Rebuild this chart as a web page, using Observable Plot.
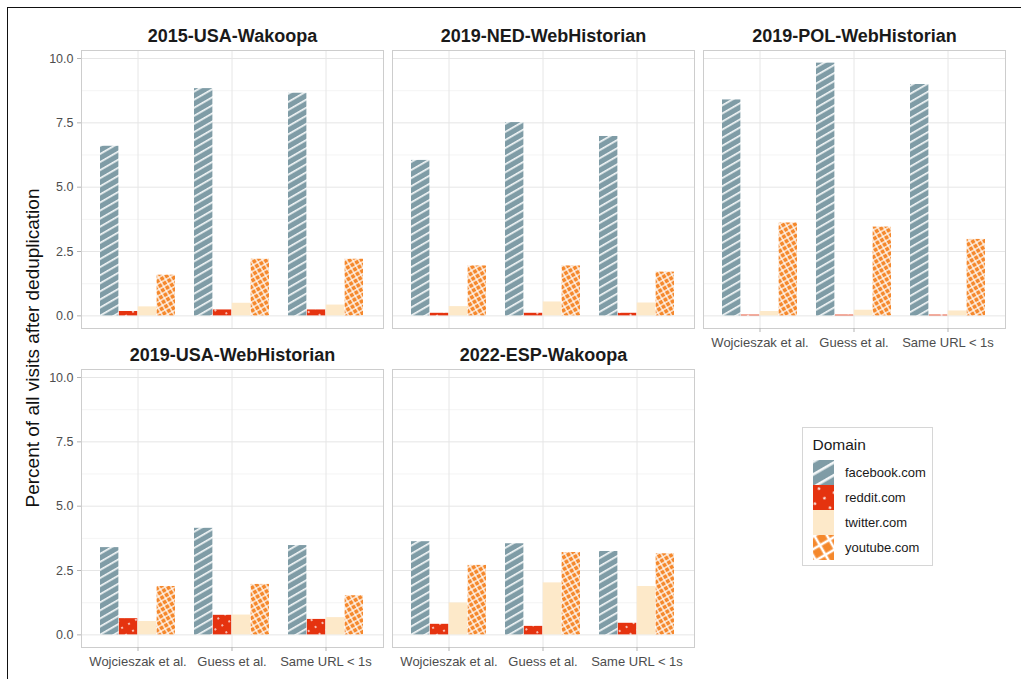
<!DOCTYPE html>
<html><head><meta charset="utf-8">
<script src="https://cdn.jsdelivr.net/npm/d3@7"></script>
<script src="https://cdn.jsdelivr.net/npm/@observablehq/plot@0.6"></script>
<style>
body{margin:0;background:#fff;font-family:"Liberation Sans",Arial,sans-serif;}
#root{position:relative;width:1021px;height:679px;overflow:hidden;background:#fff;}
.abs{position:absolute;}
#frame{position:absolute;left:7px;top:7px;width:1030px;height:690px;border-left:1.5px solid #111;border-top:1.5px solid #111;}
#ytitle{position:absolute;left:33px;top:348px;transform:translate(-50%,-50%) rotate(-90deg);white-space:nowrap;font-size:19px;color:#111;}
#legend{position:absolute;left:802px;top:427px;width:129px;height:137px;border:1px solid #d6d6d6;background:#fff;}
</style></head><body>
<div id="root">
<div id="frame"></div>
<svg width="0" height="0" style="position:absolute">
<defs>
<pattern id="pfb" patternUnits="userSpaceOnUse" width="10" height="7" patternTransform="rotate(-30)">
<rect width="10" height="7" fill="#7f9ca6"/><rect y="0" width="10" height="1.7" fill="#f4f7f8"/>
</pattern>
<pattern id="prd" patternUnits="userSpaceOnUse" width="8" height="8" patternTransform="rotate(-30)">
<rect width="8" height="8" fill="#e5330f"/><circle cx="4" cy="4" r="0.9" fill="#fff"/>
</pattern>
<pattern id="pyt" patternUnits="userSpaceOnUse" width="5.2" height="5.2" patternTransform="rotate(-30)">
<rect width="5.2" height="5.2" fill="#fff"/><rect x="0.6" y="0.6" width="4" height="4" fill="#f5882c"/>
</pattern>
<pattern id="lfb" patternUnits="userSpaceOnUse" width="12" height="11" patternTransform="rotate(-30)">
<rect width="12" height="11" fill="#7f9ca6"/><rect y="0" width="12" height="2.6" fill="#f4f7f8"/>
</pattern>
<pattern id="lrd" patternUnits="userSpaceOnUse" width="11" height="11" patternTransform="rotate(-30)">
<rect width="11" height="11" fill="#e5330f"/><circle cx="5.5" cy="5.5" r="1.2" fill="#fff"/>
</pattern>
<pattern id="lyt" patternUnits="userSpaceOnUse" width="11" height="11" patternTransform="rotate(-30)">
<rect width="11" height="11" fill="#fff"/><rect x="1.3" y="1.3" width="8.4" height="8.4" fill="#f5882c"/>
</pattern>
</defs></svg>
<div id="ytitle">Percent of all visits after deduplication</div>
<div id="legend"></div>
</div>
<script>
const panelTitles = ["2015-USA-Wakoopa", "2019-NED-WebHistorian", "2019-POL-WebHistorian", "2019-USA-WebHistorian", "2022-ESP-Wakoopa"];
const methods = ["Wojcieszak et al.", "Guess et al.", "Same URL < 1s"];
const domains = ["facebook.com", "reddit.com", "twitter.com", "youtube.com"];
// values per panel, each [Wojcieszak, Guess, Same URL]
const facebook = [[6.59, 8.83, 8.65], [6.04, 7.51, 6.97], [8.39, 9.82, 8.99], [3.39, 4.14, 3.47], [3.62, 3.54, 3.24]];
const reddit   = [[0.17, 0.23, 0.23], [0.10, 0.10, 0.10], [0.03, 0.03, 0.03], [0.63, 0.76, 0.60], [0.41, 0.33, 0.45]];
const twitter  = [[0.35, 0.49, 0.42], [0.36, 0.54, 0.50], [0.17, 0.22, 0.19], [0.52, 0.77, 0.67], [1.24, 2.02, 1.88]];
const youtube  = [[1.58, 2.20, 2.20], [1.94, 1.94, 1.70], [3.61, 3.45, 2.97], [1.88, 1.96, 1.52], [2.70, 3.20, 3.15]];
const yTicks = [0, 2.5, 5, 7.5, 10];
const yTickLabels = ["0.0", "2.5", "5.0", "7.5", "10.0"];
const yMinorTicks = [1.25, 3.75, 6.25, 8.75];

const fills = ["url(#pfb)", "url(#prd)", "#fde9c9", "url(#pyt)"];
const legendFills = ["url(#lfb)", "url(#lrd)", "#fde9c9", "url(#lyt)"];

const series = [facebook, reddit, twitter, youtube];
const table = [];
panelTitles.forEach((p, pi) => methods.forEach((m, mi) => domains.forEach((d, di) => {
  table.push({panel: p, method: m, domain: d, value: series[di][pi][mi]});
})));

const yMax = d3.max(table, d => d.value);
const yDomain = [-0.05 * yMax, 1.05 * yMax];

const panelLeft = [81, 392, 703];
const panelTop = [50, 369];
const PW = 302, PH = 278;
const ML = 50, MR = 10, MT = 35, MB = 30;
const bw = PW / 3.2 * 0.8 / 4;
const root = document.getElementById("root");
const font = {fontFamily: "'Liberation Sans', Arial, sans-serif", background: "transparent", overflow: "visible"};

panelTitles.forEach((title, i) => {
  const col = i % 3, row = Math.floor(i / 3);
  const data = table.filter(r => r.panel === title);
  const showX = row === 1 || col === 2;
  const showY = col === 0;
  const marks = [
    Plot.gridY(yMinorTicks, {stroke: "#efefef", strokeOpacity: 1, strokeWidth: 0.7}),
    Plot.gridY(yTicks, {stroke: "#e6e6e6", strokeOpacity: 1, strokeWidth: 1}),
    Plot.gridX(methods, {stroke: "#e6e6e6", strokeOpacity: 1, strokeWidth: 1}),
    ...domains.map((d, j) => Plot.barY(data.filter(r => r.domain === d), {
      x: "method", y: "value", fill: "domain", insetLeft: j * bw, insetRight: (3 - j) * bw
    })),
    Plot.frame({stroke: "#cdcdcd", strokeWidth: 1}),
    Plot.text([title], {frameAnchor: "top", text: d => d, dy: -9, lineAnchor: "bottom", fontWeight: "bold", fontSize: 18, fill: "#1a1a1a"})
  ];
  if (showY) marks.push(Plot.axisY(yTicks, {tickFormat: d => yTickLabels[yTicks.indexOf(d)], tickSize: 4, tickPadding: 4, fontSize: 12.5, stroke: "#b5b5b5", fill: "#4d4d4d", label: null}));
  if (showX) marks.push(Plot.axisX({tickSize: 4, tickPadding: 5, fontSize: 13, stroke: "#b5b5b5", fill: "#4d4d4d", label: null}));
  const svg = Plot.plot({
    width: PW + ML + MR, height: PH + MT + MB,
    marginLeft: ML, marginRight: MR, marginTop: MT, marginBottom: MB,
    style: font,
    x: {type: "band", domain: methods, paddingInner: 0.2, paddingOuter: 0.2, axis: showX ? undefined : null, label: null},
    y: {domain: yDomain, axis: showY ? undefined : null, label: null},
    color: {domain: domains, range: fills},
    marks
  });
  svg.classList.add("abs");
  svg.style.left = (panelLeft[col] - ML) + "px";
  svg.style.top = (panelTop[row] - MT) + "px";
  root.appendChild(svg);
});

const leg = Plot.plot({
  width: 129, height: 137,
  marginLeft: 0, marginRight: 0, marginTop: 30, marginBottom: 4,
  style: font,
  x: {type: "band", domain: ["key"], range: [7, 33], axis: null},
  y: {type: "band", domain: domains, padding: 0, axis: null},
  color: {domain: domains, range: legendFills},
  marks: [
    Plot.cell(domains, {x: () => "key", y: d => d, fill: d => d, inset: 0}),
    Plot.text(domains, {x: () => "key", y: d => d, text: d => d, dx: 21, textAnchor: "start", fontSize: 13, fill: "#1a1a1a"}),
    Plot.text(["Domain"], {frameAnchor: "top-left", text: d => d, dx: 9, dy: -9, lineAnchor: "bottom", fontSize: 15.5, fill: "#1a1a1a"})
  ]
});
document.getElementById("legend").appendChild(leg);
</script>
</body></html>
